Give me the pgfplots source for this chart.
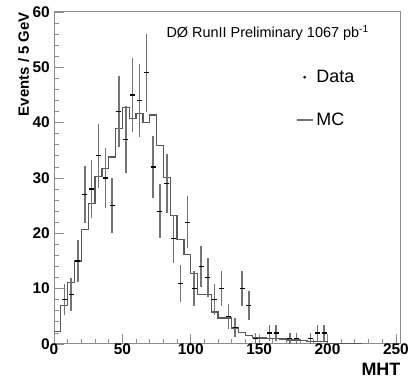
\documentclass[border=0pt]{standalone}
\usepackage{fontspec}
\setmainfont{Liberation Sans}
\usepackage{pgfplots}
\usepackage{pgfplotstable}
\pgfplotsset{compat=1.18}

\pgfplotstableread{
x y e
7.5 8 2.83
12.5 9 3.00
17.5 15 3.87
22.5 27 5.20
27.5 28 5.29
32.5 34 5.83
37.5 30 5.48
42.5 25 5.00
47.5 42 6.48
52.5 37 6.08
57.5 45 6.71
62.5 44 6.63
67.5 49 7.00
72.5 32 5.66
77.5 24 4.90
82.5 29 5.39
87.5 19 4.36
92.5 11 3.32
97.5 22 4.69
102.5 10 3.16
107.5 14 3.74
112.5 12 3.46
117.5 8 2.83
122.5 10 3.16
127.5 5 2.24
132.5 3 1.73
137.5 10 3.16
142.5 7 2.65
147.5 1 1.00
157.5 2 1.41
162.5 2 1.41
172.5 1 1.00
177.5 1 1.00
187.5 1 1.00
192.5 2 1.41
197.5 2 1.41
}\datatable

\pgfplotstableread{
x y
0 2.2
5 6.9
10 11.1
15 15.0
20 20.7
25 25.4
30 30.3
35 31.7
40 33.8
45 38.9
50 42.8
55 40.8
60 41.6
65 40.0
70 41.4
75 35.9
80 30.1
85 23.2
90 18.9
95 16.2
100 12.8
105 9.0
110 9.0
115 5.8
120 4.7
125 4.7
130 2.9
135 2.1
140 1.5
145 1.2
150 1.1
155 1.0
160 1.0
165 0.9
170 0.7
175 0.7
180 0.6
185 0.5
190 0.5
195 0.5
200 0.1
205 0.1
210 0.05
215 0.05
220 0.05
225 0
}\mctable

\begin{document}
\begin{tikzpicture}
\useasboundingbox (0,0) rectangle (410bp,381bp);
\begin{axis}[
  at={(54bp,37bp)}, anchor=south west,
  scale only axis, width=346bp, height=332bp,
  xmin=0, xmax=253, ymin=0, ymax=60,
  axis line style={draw=black!45, line width=1bp},
  xtick={0,50,...,250}, minor xtick={10,20,...,240},
  ytick={0,10,...,60}, minor ytick={2,4,...,58},
  tick align=inside, xtick pos=bottom, ytick pos=left,
  major tick length=10bp, minor tick length=5bp,
  major tick style={draw=black!45, line width=0.8bp},
  minor tick style={draw=black!45, line width=0.8bp},
  /pgf/number format/assume math mode=true,
  ticklabel style={font=\fontsize{15.5}{16}\selectfont\bfseries},
  xticklabel style={anchor=north, inner sep=0pt, yshift=0bp},
  yticklabel style={anchor=east, inner sep=0pt, xshift=-4bp},
  ylabel={Events / 5 GeV},
  ylabel style={at={(axis description cs:-0.088,1)}, anchor=east, inner sep=0pt, font=\fontsize{15}{15}\selectfont\bfseries},
  xlabel={MHT},
  xlabel style={at={(axis description cs:0.945,-0.075)}, anchor=center, inner sep=0pt, font=\fontsize{18}{18}\selectfont\bfseries},
  legend style={at={(axis description cs:0.699,0.828)}, anchor=north west, draw=none, fill=none,
    font=\fontsize{18}{18}\selectfont, row sep=27bp, column sep=2bp, inner sep=0pt,
    nodes={inner sep=1bp}},
  legend cell align=left,
  reverse legend,
]
\addplot[const plot mark left, draw=black!65, line width=1.3bp, no marks,
  legend image code/.code={\draw[black!55, line width=1.3bp] (0bp,0bp) -- (16bp,0bp);}]
  table[x=x, y=y] {\mctable};
\addlegendentry{MC}
\addplot[only marks, mark=-, mark size=2.5bp, mark options={black, line width=1.2bp},
  legend image code/.code={\fill[black] (8bp,0bp) circle (1.2bp);},
  error bars/.cd, y dir=both, y explicit,
  error bar style={black!55, line width=1.5bp}, error mark=none]
  table[x=x, y=y, y error=e] {\datatable};
\addlegendentry{Data}
\node[anchor=base west, font=\fontsize{14.5}{15}\selectfont] at (axis description cs:0.315,0.922) {DØ RunII Preliminary 1067 pb\textsuperscript{-1}};
\end{axis}
\end{tikzpicture}
\end{document}
